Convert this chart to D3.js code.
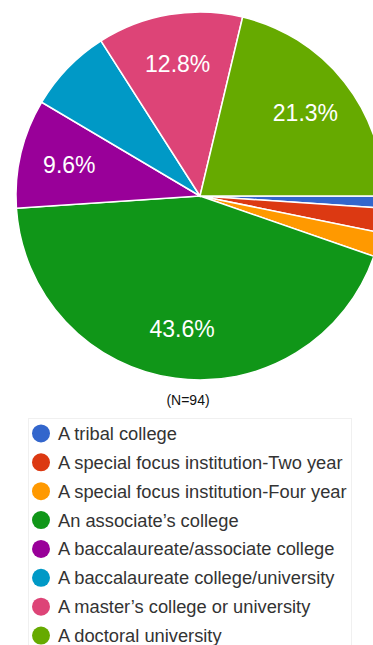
<!DOCTYPE html>
<html lang="en">
  <head>
    <meta charset="utf-8">
    <title>Institution types</title>
    <script src="https://d3js.org/d3.v7.min.js"></script>
    <style>
      body { margin: 0; background: #fff; }
    </style>
  </head>
  <body>
    <script>

      var categories = ["A tribal college",
                        "A special focus institution-Two year",
                        "A special focus institution-Four year",
                        "An associate\u2019s college",
                        "A baccalaureate/associate college",
                        "A baccalaureate college/university",
                        "A master\u2019s college or university",
                        "A doctoral university"];
      var counts = [1, 2, 2, 41, 9, 7, 12, 20];
      var colors = ["#3366cc", "#dc3912", "#ff9900", "#109618",
                    "#990099", "#0099c6", "#dd4477", "#66aa00"];
      var shownLabels = ["", "", "", "43.6%", "9.6%", "", "12.8%", "21.3%"];

      var W = 373, H = 645;
      var cx = 200, cy = 196, r = 184;

      var svg = d3.select("body").append("svg")
                  .attr("width", W)
                  .attr("height", H);

      var pie = d3.pie()
                  .sort(null)
                  .startAngle(Math.PI / 2)
                  .endAngle(Math.PI / 2 + 2 * Math.PI);

      var arc = d3.arc().innerRadius(0).outerRadius(r);
      var labelArc = d3.arc().innerRadius(r * 0.73).outerRadius(r * 0.73);

      var g = svg.append("g").attr("transform", "translate(" + cx + "," + cy + ")");

      var slices = pie(counts);

      g.selectAll("path")
       .data(slices)
       .enter().append("path")
       .attr("d", arc)
       .style("fill", function(d, i) { return colors[i]; })
       .style("stroke", "#fff")
       .style("stroke-width", 1.5);

      g.selectAll("text")
       .data(slices)
       .enter().append("text")
       .attr("transform", function(d) { return "translate(" + labelArc.centroid(d) + ")"; })
       .attr("text-anchor", "middle")
       .attr("dominant-baseline", "central")
       .style("font-family", "Arial, 'Liberation Sans', sans-serif")
       .style("font-size", "23px")
       .style("fill", "#fff")
       .text(function(d, i) { return shownLabels[i]; });

      svg.append("text")
         .attr("x", 188)
         .attr("y", 400)
         .attr("text-anchor", "middle")
         .attr("dominant-baseline", "central")
         .style("font-family", "Arial, 'Liberation Sans', sans-serif")
         .style("font-size", "14px")
         .style("fill", "#111")
         .text("(N=94)");

      // legend box
      svg.append("rect")
         .attr("x", 28.5)
         .attr("y", 418.5)
         .attr("width", 323)
         .attr("height", 240)
         .style("fill", "#fff")
         .style("stroke", "#f0f0f0");

      var rowY = d3.scaleBand()
                   .domain(categories)
                   .range([419, 650]);

      var legend = svg.selectAll(".leg")
                      .data(categories)
                      .enter().append("g")
                      .attr("class", "leg")
                      .attr("transform", function(d) {
                        return "translate(0," + (rowY(d) + rowY.bandwidth() / 2) + ")";
                      });

      legend.append("circle")
            .attr("cx", 41)
            .attr("cy", 0)
            .attr("r", 9)
            .style("fill", function(d, i) { return colors[i]; });

      legend.append("text")
            .attr("x", 58)
            .attr("y", 0)
            .attr("dominant-baseline", "central")
            .style("font-family", "Arial, 'Liberation Sans', sans-serif")
            .style("font-size", "18.3px")
            .style("fill", "#333")
            .text(function(d) { return d; });

    </script>
  </body>
</html>
